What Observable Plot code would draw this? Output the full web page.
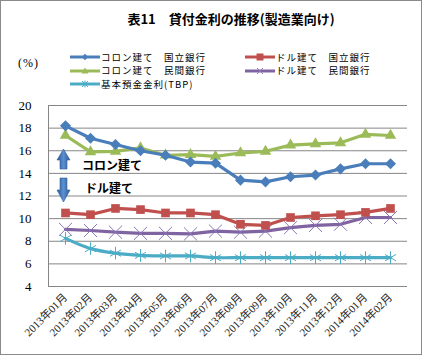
<!DOCTYPE html>
<html>
<head>
<meta charset="utf-8">
<script src="https://cdn.jsdelivr.net/npm/d3@7"></script>
<script src="https://cdn.jsdelivr.net/npm/@observablehq/plot@0.6"></script>
<style>
  body { margin: 0; background: #fff; }
  #wrap { position: relative; width: 422px; height: 355px; overflow: hidden; background: #fff; }
  #border { position: absolute; left: 0; top: 0; width: 422px; height: 355px; box-sizing: border-box; border: 1px solid #8a8a8a; pointer-events: none; }
  .t { position: absolute; white-space: nowrap; font-family: "Noto Sans CJK JP", sans-serif; color: #000; }
  #title { left: 0; width: 462px; text-align: center; top: 11px; font-size: 13px; line-height: 16px; font-weight: bold; }
  #pct { left: 18px; top: 56px; font-size: 12px; line-height: 14px; letter-spacing: 1px; font-family: "Liberation Serif", "Noto Sans CJK JP", serif; }
  .leg { position: absolute; display: flex; align-items: center; font-family: "Noto Sans CJK JP", sans-serif; font-size: 9.5px; line-height: 11px; height: 11px; white-space: nowrap; letter-spacing: 1px; }
  .leg svg { margin-right: 1px; }
  .ann { position: absolute; font-family: "Noto Sans CJK JP", sans-serif; font-weight: bold; font-size: 12px; line-height: 14px; white-space: nowrap; }
  g[aria-label="y-axis tick label"], g[aria-label="x-axis tick label"] { font-family: "Liberation Serif", "Noto Sans CJK JP", serif; }
</style>
</head>
<body>
<div id="wrap"></div>
<script>
// ---- data ----
const months = ["2013年01月","2013年02月","2013年03月","2013年04月","2013年05月","2013年06月","2013年07月","2013年08月","2013年09月","2013年10月","2013年11月","2013年12月","2014年01月","2014年02月"];
const colonNational = [18.2, 17.1, 16.55, 16.0, 15.6, 15.0, 14.9, 13.4, 13.25, 13.7, 13.85, 14.4, 14.85, 14.85];
const colonPrivate  = [17.35, 15.9, 15.95, 16.25, 15.6, 15.65, 15.5, 15.8, 15.95, 16.5, 16.6, 16.7, 17.45, 17.35];
const dollarNational = [10.5, 10.35, 10.9, 10.8, 10.5, 10.5, 10.35, 9.5, 9.4, 10.1, 10.25, 10.35, 10.55, 10.9];
const dollarPrivate  = [9.05, 8.95, 8.8, 8.7, 8.7, 8.65, 8.9, 8.8, 8.9, 9.2, 9.4, 9.5, 10.1, 10.1];
const tbp = [8.25, 7.35, 6.95, 6.75, 6.7, 6.7, 6.55, 6.55, 6.55, 6.55, 6.55, 6.55, 6.55, 6.55];
const yTicks = [4, 6, 8, 10, 12, 14, 16, 18, 20];
const seriesNames = ["コロン建て　国立銀行", "コロン建て　民間銀行", "ドル建て　国立銀行", "ドル建て　民間銀行", "基本預金金利(TBP)"];
const titleText = "表11　貸付金利の推移(製造業向け)";
const unitText = "(%)";
const upNote = "コロン建て";
const downNote = "ドル建て";

const colors = ["#4a7ebb", "#9bbb59", "#c0504d", "#8064a2", "#4bacc6"];
const markerColors = ["#4a7ebb", "#9bbb59", "#c0504d", "#8a78b8", "#4bacc6"];
const symbols = ["diamond2", "triangle2", "square2", "times", "asterisk"];
const values = [colonNational, colonPrivate, dollarNational, dollarPrivate, tbp];

const rows = [];
values.forEach((arr, i) => arr.forEach((v, j) => rows.push({series: seriesNames[i], month: months[j], value: v})));

const serif = "'Liberation Serif', 'Noto Sans CJK JP', serif";

const lineMarks = [];
[4, 3, 2, 1, 0].forEach(i => {
  const d = rows.filter(r => r.series === seriesNames[i]);
  lineMarks.push(Plot.line(d, {x: "month", y: "value", stroke: colors[i], strokeWidth: 3.2, curve: i === 4 ? "catmull-rom" : "linear"}));
  const filled = i <= 2;
  lineMarks.push(Plot.dot(d, {
    x: "month", y: "value", symbol: () => symbols[i],
    r: i === 2 ? 5.5 : (i === 1 ? 5.5 : (i >= 3 ? 6 : 5)),
    fill: filled ? markerColors[i] : "none",
    stroke: filled ? "none" : markerColors[i],
    strokeWidth: 1
  }));
});

const chart = Plot.plot({
  width: 422,
  height: 355,
  marginLeft: 48,
  marginRight: 15,
  marginTop: 105,
  marginBottom: 69,
  style: {background: "transparent", overflow: "visible"},
  x: {type: "point", domain: months, padding: 0.5},
  y: {domain: [4, 20]},
  symbol: {type: "identity"},
  marks: [
    Plot.gridY(yTicks, {stroke: "#868686", strokeOpacity: 1, strokeWidth: 1}),
    Plot.frame({anchor: "left", stroke: "#868686"}),
    Plot.axisY(yTicks, {tickSize: 0, tickPadding: 17, fontSize: 13, fontFamily: serif, label: null, fill: "#000"}),
    Plot.axisX({tickSize: 0, tickPadding: 9, tickRotate: -45, fontSize: 11, fontFamily: serif, label: null, fill: "#222"}),
    ...lineMarks
  ]
});

const wrap = document.getElementById("wrap");
wrap.appendChild(chart);

function addDiv(cls, id, text, style) {
  const d = document.createElement("div");
  d.className = cls;
  if (id) d.id = id;
  d.textContent = text;
  if (style) Object.assign(d.style, style);
  wrap.appendChild(d);
  return d;
}
addDiv("t", "title", titleText);
addDiv("t", "pct", unitText);

// legend
const legPos = [[70, 51.5], [70, 65], [245, 51.5], [245, 65], [70, 78.5]];
const legMarker = {
  0: '<path d="M0,-3.2L3.2,0L0,3.2L-3.2,0Z" fill="#4a7ebb"/>',
  1: '<path d="M0,-3.5L3.5,2.5L-3.5,2.5Z" fill="#9bbb59"/>',
  2: '<rect x="-3.5" y="-3.5" width="7" height="7" fill="#c0504d"/>',
  3: '<path d="M-3,-3L3,3M-3,3L3,-3" stroke="#8a78b8" stroke-width="1"/>',
  4: '<path d="M-3,-3L3,3M-3,3L3,-3M0,-3.5V3.5" stroke="#4bacc6" stroke-width="1"/>'
};
seriesNames.forEach((name, i) => {
  const d = document.createElement("div");
  d.className = "leg";
  d.style.left = legPos[i][0] + "px";
  d.style.top = legPos[i][1] + "px";
  d.innerHTML = `<svg width="30" height="10" viewBox="-15 -5 30 10"><line x1="-15" x2="15" y1="0" y2="0" stroke="${colors[i]}" stroke-width="3"/>${legMarker[i]}</svg>`;
  const s = document.createElement("span");
  s.textContent = name;
  d.appendChild(s);
  wrap.appendChild(d);
});

// annotation arrows
const arr = document.createElementNS("http://www.w3.org/2000/svg", "svg");
arr.setAttribute("width", "422");
arr.setAttribute("height", "355");
arr.style.position = "absolute";
arr.style.left = "0";
arr.style.top = "0";
arr.innerHTML = `
<defs><linearGradient id="ag" x1="0" x2="1" y1="0" y2="0">
<stop offset="0" stop-color="#2c5a94"/><stop offset="0.5" stop-color="#5b8fd0"/><stop offset="1" stop-color="#2c5a94"/></linearGradient></defs>
<path d="M63.5,149 L70,160 L67,160 L67,169 L60,169 L60,160 L57,160 Z" fill="url(#ag)" stroke="#2f5f9a" stroke-width="0.6"/>
<path d="M60,178 L67,178 L67,190 L70,190 L63.5,202 L57,190 L60,190 Z" fill="url(#ag)" stroke="#2f5f9a" stroke-width="0.6"/>`;
wrap.appendChild(arr);

addDiv("ann", null, upNote, {left: "82px", top: "158px"});
addDiv("ann", null, downNote, {left: "85px", top: "181px"});

addDiv("", "border", "");
</script>
</body>
</html>
